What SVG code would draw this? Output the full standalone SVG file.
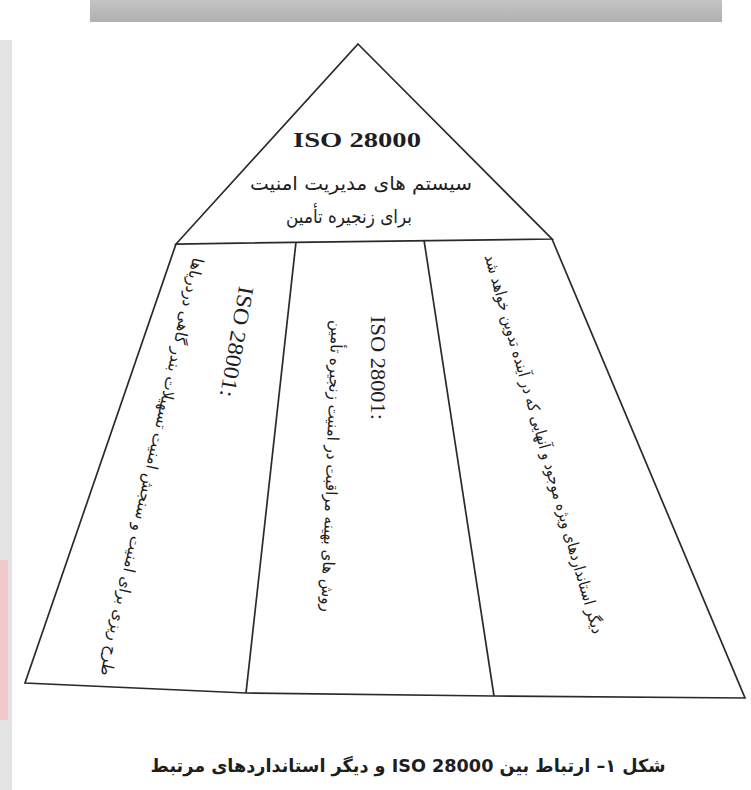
<svg xmlns="http://www.w3.org/2000/svg" width="751" height="790" viewBox="0 0 751 790">
<defs>
<linearGradient id="band" x1="0" y1="0" x2="0" y2="1">
<stop offset="0" stop-color="#c4c4c4"/>
<stop offset="1" stop-color="#b0b0b0"/>
</linearGradient>
<style>
.ln{fill:none;stroke:#2a2a2a;stroke-width:1.7;stroke-linejoin:miter}
.fa{font-family:"DejaVu Sans",sans-serif;fill:#1e1e1e;direction:rtl}
.iso{font-family:"Liberation Serif","Times New Roman",serif;fill:#1e1e1e}
</style>
</defs>
<rect x="0" y="0" width="751" height="790" fill="#ffffff"/>
<rect x="90" y="0" width="632" height="22" fill="url(#band)"/>
<rect x="0" y="40" width="12" height="750" fill="#e4e4e4"/>
<rect x="0" y="560" width="8" height="160" fill="#f3c9ce"/>

<g id="connectors">
<polygon class="ln" points="358,44 552,239 176,244"/>
<polyline class="ln" points="176,244 25,683 246,693 494,696 745,698 552,239"/>
<line class="ln" x1="296" y1="242" x2="246" y2="693"/>
<line class="ln" x1="424" y1="240" x2="494" y2="696"/>
</g>

<g id="node-top">
<text class="iso" x="357" y="147" font-size="22" font-weight="bold" text-anchor="middle" textLength="128" lengthAdjust="spacingAndGlyphs">ISO 28000</text>
<text class="fa" x="361" y="190" font-size="19" text-anchor="middle" textLength="222" lengthAdjust="spacingAndGlyphs">سیستم های مدیریت امنیت</text>
<text class="fa" x="349" y="223" font-size="19" text-anchor="middle" textLength="126" lengthAdjust="spacingAndGlyphs">برای زنجیره تأمین</text>
</g>

<g id="node-left">
<g transform="translate(237,342) rotate(100)">
<text class="iso" x="0" y="0" font-size="22" text-anchor="middle" dominant-baseline="central" textLength="112" lengthAdjust="spacingAndGlyphs">ISO 28001:</text>
</g>
<g transform="translate(152,467) rotate(102.5)">
<text class="fa" x="0" y="0" font-size="16" text-anchor="middle" dominant-baseline="central" textLength="428" lengthAdjust="spacingAndGlyphs">طرح ریزی برای امنیت و سنجش امنیت تسهیلات بندر گاهی دردریاها</text>
</g>
</g>

<g id="node-middle">
<g transform="translate(378,368) rotate(90)">
<text class="iso" x="0" y="0" font-size="22" text-anchor="middle" dominant-baseline="central" textLength="104" lengthAdjust="spacingAndGlyphs">ISO 28001:</text>
</g>
<g transform="translate(332,466) rotate(92)">
<text class="fa" x="0" y="0" font-size="16" text-anchor="middle" dominant-baseline="central" textLength="292" lengthAdjust="spacingAndGlyphs">روش های بهینه مراقبت در امنیت زنجیره تأمین</text>
</g>
</g>

<g id="node-right">
<g transform="translate(544,444) rotate(74)">
<text class="fa" x="0" y="0" font-size="16" text-anchor="middle" dominant-baseline="central" textLength="394" lengthAdjust="spacingAndGlyphs">دیگر استانداردهای ویژه موجود و آنهایی که در آینده تدوین خواهد شد</text>
</g>
</g>

<g id="caption">
<text class="fa" x="408" y="772" font-size="18" font-weight="bold" text-anchor="middle" textLength="515" lengthAdjust="spacingAndGlyphs">شکل ۱– ارتباط بین ISO 28000 و دیگر استانداردهای مرتبط</text>
</g>
</svg>
